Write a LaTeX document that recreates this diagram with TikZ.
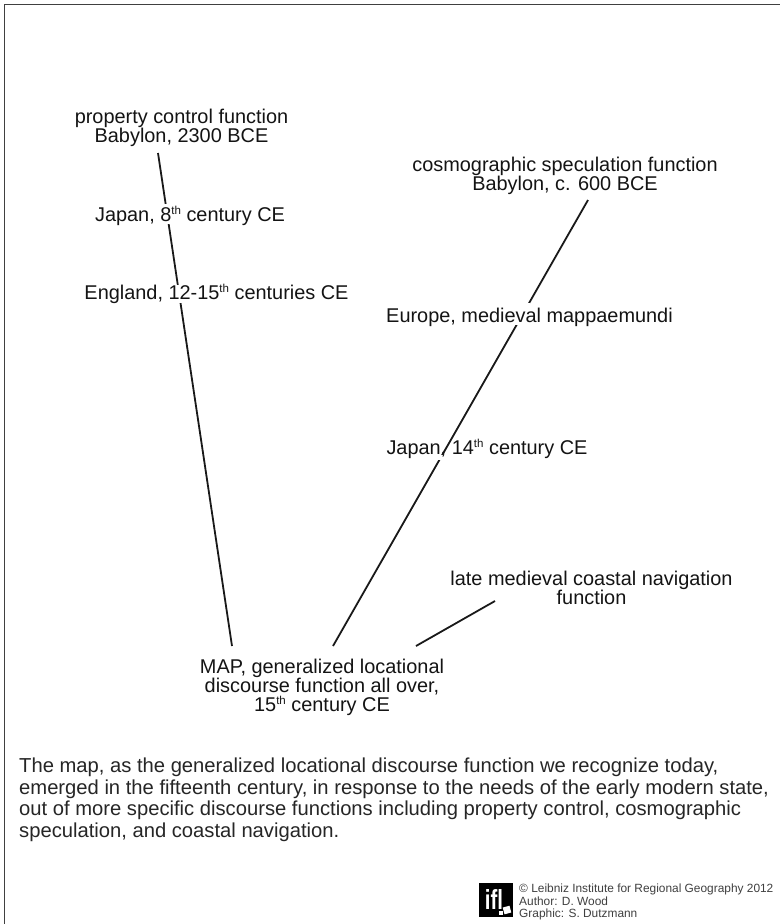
\documentclass[tikz,border=0pt]{standalone}
\usepackage{fontspec}
\setmainfont{Liberation Sans}
\newcommand{\thsup}[1]{\raisebox{0.36em}{\fontsize{11.5}{12}\selectfont #1}}
\tikzset{
 x=1pt,y=-1pt,
 lab/.style={font=\fontsize{19.9}{19}\selectfont,align=center,inner sep=0pt,text=black!92},
 gaplab/.style={lab},
 conn/.style={draw=black!90,line width=1.8pt},
 para/.style={font=\fontsize{20.2}{21.4}\selectfont,align=left,inner sep=0pt,anchor=north west,text=black!85},
 credit/.style={font=\fontsize{11.9}{12.7}\selectfont,align=left,inner sep=0pt,anchor=west,text=black!75},
 gapfill/.style={fill=white},
}
\begin{document}
\begin{tikzpicture}
\useasboundingbox (0,0) rectangle (780,924);
\fill[white] (0,0) rectangle (780,924);
\draw[black!75,line width=1pt] (4.5,924) -- (4.5,4.5) -- (780,4.5);
\coordinate (a1) at (158,153);
\coordinate (a2) at (232,646);
\coordinate (b1) at (588,200);
\coordinate (b2) at (333,646);
\coordinate (c1) at (495,601);
\coordinate (c2) at (416,646);
\draw[conn] (a1) -- (a2);
\draw[conn] (b1) -- (b2);
\draw[conn] (c1) -- (c2);
\fill[gapfill] (160,204) rectangle (180,224);
\fill[gapfill] (170,285) rectangle (190,303);
\fill[gapfill] (505,303) rectangle (530,325);
\fill[gapfill] (436,455) rectangle (446,460);
\node[lab] (prop) at (181.5,127.5) {property control function\\Babylon, 2300 BCE};
\node[gaplab] (japan) at (190,216) {Japan, 8\thsup{th} century CE};
\node[gaplab] (england) at (216.5,294) {England, 12-15\thsup{th} centuries CE};
\node[lab] (cosmo) at (565,176) {cosmographic speculation function\\Babylon, c. 600 BCE};
\node[gaplab] (europe) at (529.5,317) {Europe, medieval mappaemundi};
\node[gaplab] (japantwo) at (487,449) {Japan, 14\thsup{th} century CE};
\node[lab] (coast) at (591.5,587.5) {late medieval coastal navigation\\function};
\node[lab] (map) at (322,687.5) {MAP, generalized locational\\discourse function all over,\\15\thsup{th} century CE};
\node[para] (text) at (19,758) {The map, as the generalized locational discourse function we recognize today,\\emerged in the fifteenth century, in response to the needs of the early modern state,\\out of more specific discourse functions including property control, cosmographic\\speculation, and coastal navigation.};
\fill[black] (479,883) rectangle (513,917);
\node[inner sep=0pt,text=white,font=\bfseries\fontsize{24}{24}\selectfont] (ifl) at (494,899) {\scalebox{0.85}[1.15]{ifl}};
\fill[white,rotate around={15:(507,910)}] (503.5,906.5) rectangle (510.5,913.5);
\fill[white] (499,911) rectangle (503,915);
\node[credit] (cr) at (519,902) {© Leibniz Institute for Regional Geography 2012\\Author: D. Wood\\Graphic: S. Dutzmann};
\end{tikzpicture}
\end{document}
